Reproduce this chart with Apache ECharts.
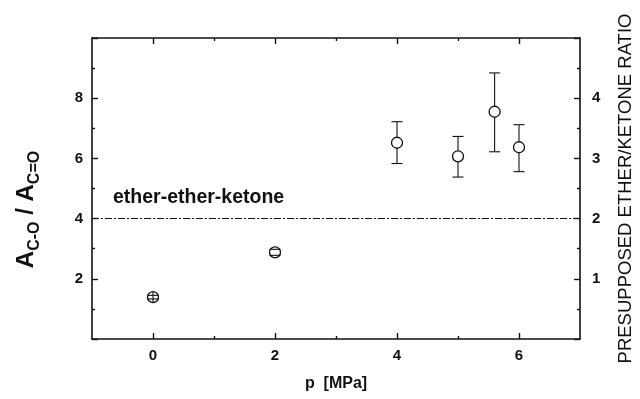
<!DOCTYPE html>
<html lang="en">
<head>
<meta charset="UTF-8">
<title>A(C-O)/A(C=O) vs p</title>
<script src="https://cdn.jsdelivr.net/npm/echarts@6/dist/echarts.min.js"></script>
<style>
  html, body { margin: 0; padding: 0; background: #fff; }
  #main { width: 640px; height: 399px; }
</style>
</head>
<body>
<div id="main"></div>
<script>
  // values
  var pressure = [0, 2, 4, 5, 5.6, 6]
  var ratio = [1.39, 2.88, 6.52, 6.07, 7.55, 6.37]
  var errLow = [1.33, 2.78, 5.83, 5.38, 6.22, 5.56]
  var errHigh = [1.45, 2.98, 7.22, 6.73, 8.84, 7.12]
  var xMajor = [0, 2, 4, 6]
  var xMinor = [1, 3, 5]
  var refLevel = 4
  var refName = 'ether-ether-ketone'

  var font = 'Liberation Sans, Arial, sans-serif'
  var ink = '#111'

  var chart = echarts.init(document.getElementById('main'))

  var line = { show: true, onZero: false, lineStyle: { color: ink, width: 1.6 } }
  var label = { color: ink, fontFamily: font, fontWeight: 'bold', fontSize: 15 }

  var xAxis = (pos, ticks, len, withLine, withLabel) => ({
    type: 'value', position: pos, min: -1, max: 7,
    axisLine: withLine ? line : { show: false, onZero: false },
    axisTick: { show: true, inside: true, length: len, customValues: ticks, lineStyle: { color: ink, width: 1.4 } },
    axisLabel: withLabel ? Object.assign({ customValues: ticks, margin: 9 }, label) : { show: false },
    splitLine: { show: false }
  })

  var minor = { show: true, splitNumber: 2, length: 3, lineStyle: { color: ink, width: 1.4 } }

  var pts = pressure.map((p, i) => [p, ratio[i]])
  var bars = pressure.map((p, i) => [p, errLow[i], errHigh[i], ratio[i]])

  var option = {
    animation: false,
    backgroundColor: '#fff',
    grid: { left: 92, right: 60, top: 38, bottom: 60, outerBoundsMode: 'none', containLabel: false },
    xAxis: [
      Object.assign(xAxis('bottom', xMajor, 6, true, true), {
        name: 'p  [MPa]', nameLocation: 'middle', nameGap: 37,
        nameTextStyle: { color: ink, fontFamily: font, fontWeight: 'bold', fontSize: 16 }
      }),
      xAxis('top', xMajor, 6, true, false),
      xAxis('bottom', xMinor, 3, false, false),
      xAxis('top', xMinor, 3, false, false)
    ],
    yAxis: [
      {
        type: 'value', position: 'left', min: 0, max: 10, interval: 2,
        axisLine: line,
        axisTick: { inside: true, length: 6, lineStyle: { color: ink, width: 1.4 } },
        minorTick: minor,
        axisLabel: Object.assign({ margin: 9, formatter: v => (v === 0 || v === 10) ? '' : v }, label),
        splitLine: { show: false },
        name: '{a|A}{s|C-O}{a| / A}{s|C=O}',
        nameLocation: 'middle', nameGap: 52, nameRotate: 90,
        nameTextStyle: {
          padding: [0, 42, 0, 0],
          rich: {
            a: { fontFamily: font, fontWeight: 'bold', fontSize: 24, lineHeight: 26, color: ink, verticalAlign: 'top' },
            s: { fontFamily: font, fontWeight: 'bold', fontSize: 16, lineHeight: 16, color: ink, verticalAlign: 'top', padding: [13, 0, 0, 0] }
          }
        }
      },
      {
        type: 'value', position: 'right', min: 0, max: 5, interval: 1,
        axisLine: line,
        axisTick: { inside: true, length: 6, lineStyle: { color: ink, width: 1.4 } },
        minorTick: minor,
        axisLabel: Object.assign({ margin: 12, formatter: v => (v === 0 || v === 5) ? '' : v }, label),
        splitLine: { show: false },
        name: 'PRESUPPOSED ETHER/KETONE RATIO',
        nameLocation: 'middle', nameGap: 36, nameRotate: 90,
        nameTextStyle: { color: ink, fontFamily: font, fontSize: 18.5 }
      }
    ],
    series: [
      {
        type: 'scatter',
        data: pts,
        symbol: 'circle',
        symbolSize: 11,
        itemStyle: { color: '#fff', borderColor: ink, borderWidth: 1.3, opacity: 1 },
        z: 3,
        markLine: {
          silent: true,
          symbol: 'none',
          data: [{ yAxis: refLevel }],
          lineStyle: { color: ink, width: 1, type: [7, 2, 2, 2] },
          label: {
            show: true, position: 'insideStartTop', formatter: refName,
            color: ink, fontFamily: font, fontWeight: 'bold', fontSize: 19.5,
            distance: [21, 11]
          }
        }
      },
      {
        type: 'custom',
        data: bars,
        z: 4,
        renderItem: (params, api) => {
          let x = api.coord([api.value(0), api.value(1)])[0]
          let lo = api.coord([api.value(0), api.value(1)])[1]
          let hi = api.coord([api.value(0), api.value(2)])[1]
          let mid = api.coord([api.value(0), api.value(3)])[1]
          let r = 5.5, w = 5.5
          let style = { stroke: ink, lineWidth: 1.1 }
          let kids = [
            { type: 'line', shape: { x1: x - w, y1: hi, x2: x + w, y2: hi }, style },
            { type: 'line', shape: { x1: x - w, y1: lo, x2: x + w, y2: lo }, style }
          ]
          if (lo - mid > r) {
            kids.push({ type: 'line', shape: { x1: x, y1: hi, x2: x, y2: mid - r }, style })
            kids.push({ type: 'line', shape: { x1: x, y1: mid + r, x2: x, y2: lo }, style })
          } else if (lo - hi < 2 * r - 6) {
            kids.push({ type: 'line', shape: { x1: x, y1: mid - r, x2: x, y2: mid + r }, style })
          }
          return { type: 'group', children: kids }
        }
      }
    ]
  }

  chart.setOption(option)
</script>
</body>
</html>
